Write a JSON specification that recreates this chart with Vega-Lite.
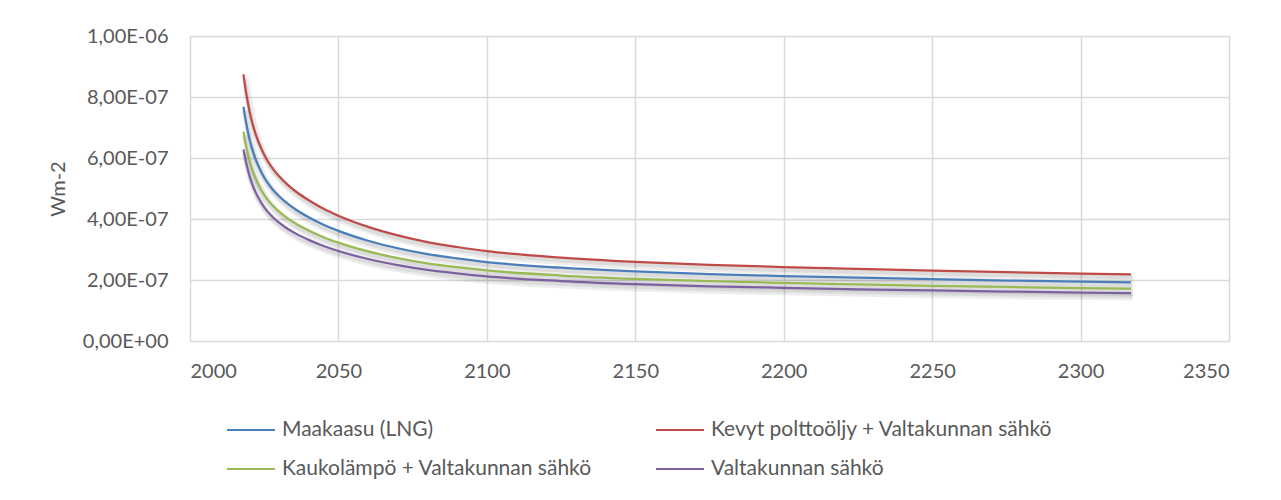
{
  "$schema": "https://vega.github.io/schema/vega-lite/v6.json",
  "autosize": {"type": "none"},
  "width": 1039,
  "height": 305,
  "padding": {"left": 190, "top": 36, "right": 52, "bottom": 159},
  "background": "white",
  "data": {"values": [
    {"year": 2018, "series": "Maakaasu (LNG)", "value": 7.680e-7},
    {"year": 2018, "series": "Kevyt polttoöljy + Valtakunnan sähkö", "value": 8.740e-7},
    {"year": 2018, "series": "Kaukolämpö + Valtakunnan sähkö", "value": 6.860e-7},
    {"year": 2018, "series": "Valtakunnan sähkö", "value": 6.280e-7},
    {"year": 2019, "series": "Maakaasu (LNG)", "value": 7.104e-7},
    {"year": 2019, "series": "Kevyt polttoöljy + Valtakunnan sähkö", "value": 8.085e-7},
    {"year": 2019, "series": "Kaukolämpö + Valtakunnan sähkö", "value": 6.346e-7},
    {"year": 2019, "series": "Valtakunnan sähkö", "value": 5.809e-7},
    {"year": 2020, "series": "Maakaasu (LNG)", "value": 6.643e-7},
    {"year": 2020, "series": "Kevyt polttoöljy + Valtakunnan sähkö", "value": 7.560e-7},
    {"year": 2020, "series": "Kaukolämpö + Valtakunnan sähkö", "value": 5.934e-7},
    {"year": 2020, "series": "Valtakunnan sähkö", "value": 5.432e-7},
    {"year": 2021, "series": "Maakaasu (LNG)", "value": 6.282e-7},
    {"year": 2021, "series": "Kevyt polttoöljy + Valtakunnan sähkö", "value": 7.149e-7},
    {"year": 2021, "series": "Kaukolämpö + Valtakunnan sähkö", "value": 5.611e-7},
    {"year": 2021, "series": "Valtakunnan sähkö", "value": 5.137e-7},
    {"year": 2022, "series": "Maakaasu (LNG)", "value": 5.990e-7},
    {"year": 2022, "series": "Kevyt polttoöljy + Valtakunnan sähkö", "value": 6.817e-7},
    {"year": 2022, "series": "Kaukolämpö + Valtakunnan sähkö", "value": 5.351e-7},
    {"year": 2022, "series": "Valtakunnan sähkö", "value": 4.898e-7},
    {"year": 2024, "series": "Maakaasu (LNG)", "value": 5.545e-7},
    {"year": 2024, "series": "Kevyt polttoöljy + Valtakunnan sähkö", "value": 6.310e-7},
    {"year": 2024, "series": "Kaukolämpö + Valtakunnan sähkö", "value": 4.953e-7},
    {"year": 2024, "series": "Valtakunnan sähkö", "value": 4.534e-7},
    {"year": 2026, "series": "Maakaasu (LNG)", "value": 5.207e-7},
    {"year": 2026, "series": "Kevyt polttoöljy + Valtakunnan sähkö", "value": 5.926e-7},
    {"year": 2026, "series": "Kaukolämpö + Valtakunnan sähkö", "value": 4.651e-7},
    {"year": 2026, "series": "Valtakunnan sähkö", "value": 4.258e-7},
    {"year": 2028, "series": "Maakaasu (LNG)", "value": 4.954e-7},
    {"year": 2028, "series": "Kevyt polttoöljy + Valtakunnan sähkö", "value": 5.637e-7},
    {"year": 2028, "series": "Kaukolämpö + Valtakunnan sähkö", "value": 4.425e-7},
    {"year": 2028, "series": "Valtakunnan sähkö", "value": 4.051e-7},
    {"year": 2030, "series": "Maakaasu (LNG)", "value": 4.746e-7},
    {"year": 2030, "series": "Kevyt polttoöljy + Valtakunnan sähkö", "value": 5.401e-7},
    {"year": 2030, "series": "Kaukolämpö + Valtakunnan sähkö", "value": 4.239e-7},
    {"year": 2030, "series": "Valtakunnan sähkö", "value": 3.881e-7},
    {"year": 2033, "series": "Maakaasu (LNG)", "value": 4.493e-7},
    {"year": 2033, "series": "Kevyt polttoöljy + Valtakunnan sähkö", "value": 5.113e-7},
    {"year": 2033, "series": "Kaukolämpö + Valtakunnan sähkö", "value": 4.013e-7},
    {"year": 2033, "series": "Valtakunnan sähkö", "value": 3.674e-7},
    {"year": 2036, "series": "Maakaasu (LNG)", "value": 4.285e-7},
    {"year": 2036, "series": "Kevyt polttoöljy + Valtakunnan sähkö", "value": 4.877e-7},
    {"year": 2036, "series": "Kaukolämpö + Valtakunnan sähkö", "value": 3.828e-7},
    {"year": 2036, "series": "Valtakunnan sähkö", "value": 3.504e-7},
    {"year": 2040, "series": "Maakaasu (LNG)", "value": 4.055e-7},
    {"year": 2040, "series": "Kevyt polttoöljy + Valtakunnan sähkö", "value": 4.615e-7},
    {"year": 2040, "series": "Kaukolämpö + Valtakunnan sähkö", "value": 3.622e-7},
    {"year": 2040, "series": "Valtakunnan sähkö", "value": 3.316e-7},
    {"year": 2045, "series": "Maakaasu (LNG)", "value": 3.809e-7},
    {"year": 2045, "series": "Kevyt polttoöljy + Valtakunnan sähkö", "value": 4.335e-7},
    {"year": 2045, "series": "Kaukolämpö + Valtakunnan sähkö", "value": 3.403e-7},
    {"year": 2045, "series": "Valtakunnan sähkö", "value": 3.115e-7},
    {"year": 2050, "series": "Maakaasu (LNG)", "value": 3.610e-7},
    {"year": 2050, "series": "Kevyt polttoöljy + Valtakunnan sähkö", "value": 4.108e-7},
    {"year": 2050, "series": "Kaukolämpö + Valtakunnan sähkö", "value": 3.224e-7},
    {"year": 2050, "series": "Valtakunnan sähkö", "value": 2.952e-7},
    {"year": 2060, "series": "Maakaasu (LNG)", "value": 3.287e-7},
    {"year": 2060, "series": "Kevyt polttoöljy + Valtakunnan sähkö", "value": 3.741e-7},
    {"year": 2060, "series": "Kaukolämpö + Valtakunnan sähkö", "value": 2.936e-7},
    {"year": 2060, "series": "Valtakunnan sähkö", "value": 2.688e-7},
    {"year": 2070, "series": "Maakaasu (LNG)", "value": 3.041e-7},
    {"year": 2070, "series": "Kevyt polttoöljy + Valtakunnan sähkö", "value": 3.461e-7},
    {"year": 2070, "series": "Kaukolämpö + Valtakunnan sähkö", "value": 2.717e-7},
    {"year": 2070, "series": "Valtakunnan sähkö", "value": 2.487e-7},
    {"year": 2080, "series": "Maakaasu (LNG)", "value": 2.849e-7},
    {"year": 2080, "series": "Kevyt polttoöljy + Valtakunnan sähkö", "value": 3.243e-7},
    {"year": 2080, "series": "Kaukolämpö + Valtakunnan sähkö", "value": 2.545e-7},
    {"year": 2080, "series": "Valtakunnan sähkö", "value": 2.330e-7},
    {"year": 2090, "series": "Maakaasu (LNG)", "value": 2.708e-7},
    {"year": 2090, "series": "Kevyt polttoöljy + Valtakunnan sähkö", "value": 3.082e-7},
    {"year": 2090, "series": "Kaukolämpö + Valtakunnan sähkö", "value": 2.419e-7},
    {"year": 2090, "series": "Valtakunnan sähkö", "value": 2.214e-7},
    {"year": 2100, "series": "Maakaasu (LNG)", "value": 2.588e-7},
    {"year": 2100, "series": "Kevyt polttoöljy + Valtakunnan sähkö", "value": 2.945e-7},
    {"year": 2100, "series": "Kaukolämpö + Valtakunnan sähkö", "value": 2.312e-7},
    {"year": 2100, "series": "Valtakunnan sähkö", "value": 2.116e-7},
    {"year": 2125, "series": "Maakaasu (LNG)", "value": 2.404e-7},
    {"year": 2125, "series": "Kevyt polttoöljy + Valtakunnan sähkö", "value": 2.736e-7},
    {"year": 2125, "series": "Kaukolämpö + Valtakunnan sähkö", "value": 2.147e-7},
    {"year": 2125, "series": "Valtakunnan sähkö", "value": 1.966e-7},
    {"year": 2150, "series": "Maakaasu (LNG)", "value": 2.281e-7},
    {"year": 2150, "series": "Kevyt polttoöljy + Valtakunnan sähkö", "value": 2.596e-7},
    {"year": 2150, "series": "Kaukolämpö + Valtakunnan sähkö", "value": 2.037e-7},
    {"year": 2150, "series": "Valtakunnan sähkö", "value": 1.865e-7},
    {"year": 2175, "series": "Maakaasu (LNG)", "value": 2.194e-7},
    {"year": 2175, "series": "Kevyt polttoöljy + Valtakunnan sähkö", "value": 2.497e-7},
    {"year": 2175, "series": "Kaukolämpö + Valtakunnan sähkö", "value": 1.960e-7},
    {"year": 2175, "series": "Valtakunnan sähkö", "value": 1.794e-7},
    {"year": 2200, "series": "Maakaasu (LNG)", "value": 2.131e-7},
    {"year": 2200, "series": "Kevyt polttoöljy + Valtakunnan sähkö", "value": 2.425e-7},
    {"year": 2200, "series": "Kaukolämpö + Valtakunnan sähkö", "value": 1.904e-7},
    {"year": 2200, "series": "Valtakunnan sähkö", "value": 1.743e-7},
    {"year": 2225, "series": "Maakaasu (LNG)", "value": 2.074e-7},
    {"year": 2225, "series": "Kevyt polttoöljy + Valtakunnan sähkö", "value": 2.361e-7},
    {"year": 2225, "series": "Kaukolämpö + Valtakunnan sähkö", "value": 1.853e-7},
    {"year": 2225, "series": "Valtakunnan sähkö", "value": 1.696e-7},
    {"year": 2250, "series": "Maakaasu (LNG)", "value": 2.025e-7},
    {"year": 2250, "series": "Kevyt polttoöljy + Valtakunnan sähkö", "value": 2.305e-7},
    {"year": 2250, "series": "Kaukolämpö + Valtakunnan sähkö", "value": 1.809e-7},
    {"year": 2250, "series": "Valtakunnan sähkö", "value": 1.656e-7},
    {"year": 2275, "series": "Maakaasu (LNG)", "value": 1.982e-7},
    {"year": 2275, "series": "Kevyt polttoöljy + Valtakunnan sähkö", "value": 2.256e-7},
    {"year": 2275, "series": "Kaukolämpö + Valtakunnan sähkö", "value": 1.771e-7},
    {"year": 2275, "series": "Valtakunnan sähkö", "value": 1.621e-7},
    {"year": 2300, "series": "Maakaasu (LNG)", "value": 1.944e-7},
    {"year": 2300, "series": "Kevyt polttoöljy + Valtakunnan sähkö", "value": 2.212e-7},
    {"year": 2300, "series": "Kaukolämpö + Valtakunnan sähkö", "value": 1.736e-7},
    {"year": 2300, "series": "Valtakunnan sähkö", "value": 1.589e-7},
    {"year": 2317, "series": "Maakaasu (LNG)", "value": 1.920e-7},
    {"year": 2317, "series": "Kevyt polttoöljy + Valtakunnan sähkö", "value": 2.185e-7},
    {"year": 2317, "series": "Kaukolämpö + Valtakunnan sähkö", "value": 1.715e-7},
    {"year": 2317, "series": "Valtakunnan sähkö", "value": 1.570e-7}
  ]},
  "encoding": {
    "x": {
      "field": "year", "type": "quantitative",
      "scale": {"domain": [2000, 2350], "nice": false, "zero": false},
      "axis": {"values": [2000, 2050, 2100, 2150, 2200, 2250, 2300, 2350], "format": "d", "title": null, "labelPadding": 20}
    },
    "y": {
      "field": "value", "type": "quantitative",
      "scale": {"domain": [0, 1e-6], "nice": false},
      "axis": {
        "values": [0, 2e-7, 4e-7, 6e-7, 8e-7, 1e-6],
        "labelExpr": "replace(replace(replace(format(datum.value, '.2e'), '.', ','), regexp('e-([0-9])$'), 'E-0$1'), 'e+0', 'E+00')",
        "title": "Wm-2", "titlePadding": 14, "labelPadding": 22
      }
    }
  },
  "layer": [
    {
      "mark": {"type": "line", "interpolate": "monotone", "color": "#000000", "opacity": 0.07, "strokeWidth": 7, "yOffset": 4, "xOffset": 2},
      "encoding": {"detail": {"field": "series"}}
    },
    {
      "mark": {"type": "line", "interpolate": "monotone", "color": "#000000", "opacity": 0.07, "strokeWidth": 4, "yOffset": 3, "xOffset": 1},
      "encoding": {"detail": {"field": "series"}}
    },
    {
      "mark": {"type": "line", "interpolate": "monotone", "strokeWidth": 2.25},
      "encoding": {
        "color": {
          "field": "series", "type": "nominal",
          "scale": {
            "domain": ["Maakaasu (LNG)", "Kevyt polttoöljy + Valtakunnan sähkö", "Kaukolämpö + Valtakunnan sähkö", "Valtakunnan sähkö"],
            "range": ["#4A7EBB", "#BE4B48", "#98B954", "#7D60A0"]
          },
          "legend": {
            "orient": "none", "direction": "horizontal", "legendX": 36, "legendY": 369, "columns": 2, "title": null,
            "symbolType": "stroke", "symbolSize": 2300, "symbolStrokeWidth": 2,
            "labelFontSize": 21, "labelFont": "Lato", "labelColor": "#595959", "labelOffset": 6,
            "columnPadding": 60, "rowPadding": 4, "labelLimit": 500
          }
        }
      }
    }
  ],
  "config": {
    "view": {"stroke": null},
    "font": "Lato",
    "axis": {
      "grid": true, "gridColor": "#d9d9d9", "gridWidth": 1.5, "domain": false, "ticks": false,
      "labelFont": "Lato", "labelFontSize": 20, "labelColor": "#595959",
      "titleFont": "Lato", "titleFontSize": 20, "titleColor": "#595959", "titleFontWeight": "normal"
    }
  }
}
